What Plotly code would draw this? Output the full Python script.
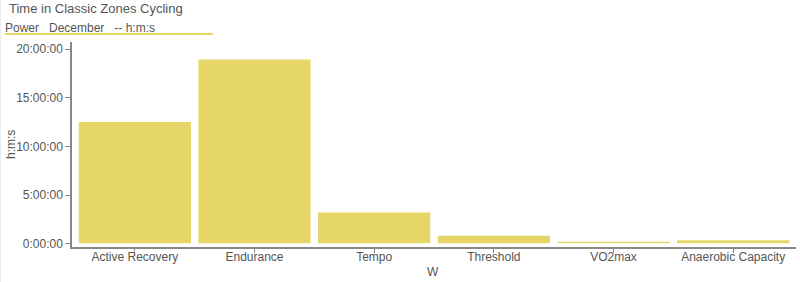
import plotly.graph_objects as go

zones = ["Active Recovery", "Endurance", "Tempo", "Threshold", "VO2max", "Anaerobic Capacity"]
hours = [12.6, 19.0, 3.3, 0.92, 0.3, 0.45]
tick_hours = [0, 5, 10, 15, 20]
tick_labels = ["0:00:00", "5:00:00", "10:00:00", "15:00:00", "20:00:00"]

W, H = 800, 282
ml, mr, mt, mb = 72, 4, 42, 35
PW, PH = W - ml - mr, H - mt - mb


def px(x):
    return (x - ml) / PW


def py(y):
    return 1 - (y - mt) / PH


fig = go.Figure(go.Bar(
    x=zones, y=hours,
    marker=dict(color="#e6d567", line=dict(color="white", width=1.5)),
    width=0.95,
))

font = "Liberation Sans, Arial, Helvetica, sans-serif"
fig.update_layout(
    width=W, height=H,
    margin=dict(l=ml, r=mr, t=mt, b=mb),
    plot_bgcolor="white", paper_bgcolor="white",
    font=dict(family=font, size=12, color="#555"),
    showlegend=False,
    xaxis=dict(
        range=[-0.525, 5.525], showline=True, linecolor="#888", linewidth=1.5,
        ticks="outside", ticklen=4, tickcolor="#888", showgrid=False,
        automargin=False, fixedrange=True, ticklabelstandoff=-6,
        tickfont=dict(size=12, color="#555"),
    ),
    yaxis=dict(
        range=[-0.31, 20.72], showline=True, linecolor="#888", linewidth=1.5,
        ticks="outside", ticklen=5, tickcolor="#888", showgrid=False, zeroline=False,
        automargin=False, fixedrange=True,
        tickvals=tick_hours, ticktext=tick_labels,
        tickfont=dict(size=12, color="#555"),
    ),
    annotations=[
        dict(text="Time in Classic Zones Cycling", xref="paper", yref="paper",
             x=px(7), y=py(-1), xanchor="left", yanchor="top", showarrow=False,
             font=dict(size=13, color="#555")),
        dict(text="Power   December   -- h:m:s", xref="paper", yref="paper",
             x=px(3), y=py(19), xanchor="left", yanchor="top", showarrow=False,
             font=dict(size=12, color="#555")),
        dict(text="W", xref="paper", yref="paper",
             x=px(433), y=py(272), xanchor="center", yanchor="middle", showarrow=False,
             font=dict(size=12, color="#555")),
        dict(text="h:m:s", xref="paper", yref="paper", textangle=-90,
             x=px(11), y=py(144), xanchor="center", yanchor="middle", showarrow=False,
             font=dict(size=12, color="#555")),
    ],
    shapes=[
        dict(type="line", xref="paper", yref="paper",
             x0=px(5), x1=px(213), y0=py(34), y1=py(34),
             line=dict(color="#e6d567", width=2)),
        dict(type="line", xref="paper", yref="paper",
             x0=px(0.5), x1=px(0.5), y0=py(0), y1=py(282),
             line=dict(color="#ececec", width=1)),
    ],
)

fig.write_html("out.html")
